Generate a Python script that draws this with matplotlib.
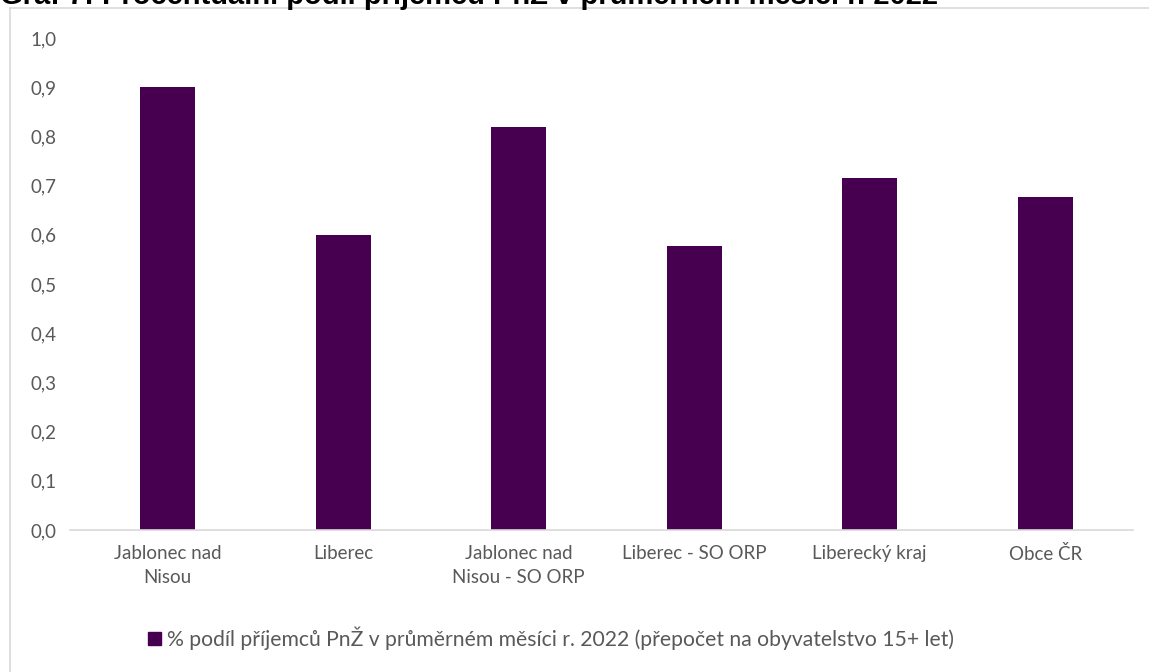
import matplotlib
matplotlib.use("Agg")
import matplotlib.pyplot as plt
from matplotlib.lines import Line2D
from matplotlib.patches import Patch

plt.rcParams.update({
    "font.family": ["Lato", "DejaVu Sans"],
    "axes.spines.top": False,
    "axes.spines.right": False,
    "axes.spines.left": False,
})

categories = [
    "Jablonec nad\nNisou",
    "Liberec",
    "Jablonec nad\nNisou - SO ORP",
    "Liberec - SO ORP",
    "Liberecký kraj",
    "Obce ČR",
]
values = [0.90, 0.60, 0.82, 0.577, 0.715, 0.677]
y_ticks = [0.0, 0.1, 0.2, 0.3, 0.4, 0.5, 0.6, 0.7, 0.8, 0.9, 1.0]
series_label = "% podíl příjemců PnŽ v průměrném měsíci r. 2022 (přepočet na obyvatelstvo 15+ let)"
title = "Graf 7: Procentuální podíl příjemců PnŽ v průměrném měsíci r. 2022"

BAR_COLOR = "#470050"
TEXT_COLOR = "#595959"
LINE_COLOR = "#d9d9d9"

W, H = 1149, 672
fig = plt.figure(figsize=(W / 100, H / 100), dpi=100)
ax = fig.add_axes([80 / W, 142 / H, (1133 - 80) / W, 492 / H])

x = list(range(len(categories)))
ax.bar(x, values, width=0.313, color=BAR_COLOR, zorder=2)
ax.set_xlim(-0.5, len(categories) - 0.5)
ax.set_ylim(0, 1.0)
ax.set_yticks(y_ticks)
ax.set_yticklabels([f"{v:.1f}".replace(".", ",") for v in y_ticks])
ax.set_xticks(x)
ax.set_xticklabels(categories, linespacing=1.45)
ax.tick_params(axis="both", length=0, labelsize=13.5, labelcolor=TEXT_COLOR)
ax.tick_params(axis="y", pad=17)
ax.tick_params(axis="x", pad=11)
ax.spines["bottom"].set_color(LINE_COLOR)
ax.spines["bottom"].set_linewidth(1.2)
ax.spines["bottom"].set_bounds(-0.555, len(categories) - 0.5)

# chart frame (only left and top edges are visible in the crop)
fig.add_artist(Line2D([9.5 / W, 9.5 / W], [0, 1 - 7.5 / H], transform=fig.transFigure,
                      color=LINE_COLOR, lw=1.2))
fig.add_artist(Line2D([9.5 / W, 1], [1 - 7.5 / H, 1 - 7.5 / H], transform=fig.transFigure,
                      color=LINE_COLOR, lw=1.2))

# title, mostly cut off by the top edge as in the source
fig.text(0 / W, 1 - 4 / H, title, ha="left", va="baseline", fontsize=21,
         fontweight="bold", family=["Liberation Sans", "DejaVu Sans"], color="black")

handles = [Patch(facecolor=BAR_COLOR, edgecolor=BAR_COLOR, label=series_label)]
fig.legend(handles=handles, loc="center", bbox_to_anchor=(551 / W, 1 - 638 / H),
           frameon=False, fontsize=15.2, labelcolor=TEXT_COLOR,
           handlelength=0.6, handleheight=0.6, handletextpad=0.3)

fig.savefig("out.png", dpi=100)
